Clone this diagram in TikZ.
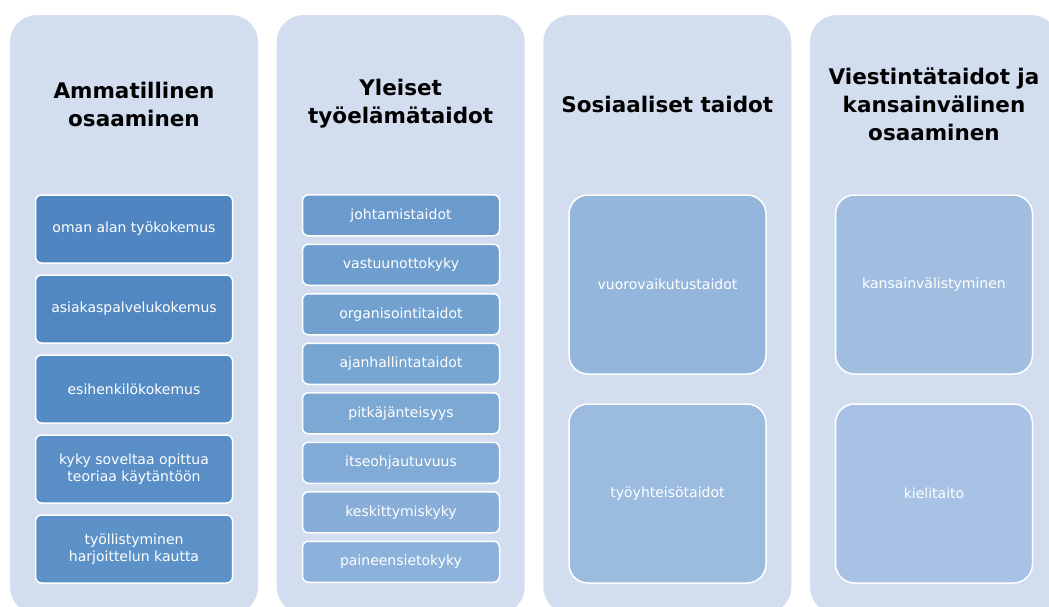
\documentclass[tikz,border=0pt]{standalone}
\usepackage{fontspec}
\setmainfont{DejaVu Sans}
\usepackage{tikz}
\usetikzlibrary{positioning}

\definecolor{panelfill}{HTML}{D2DEEF}
\definecolor{ca1}{HTML}{4F85C0}
\definecolor{ca2}{HTML}{5288C2}
\definecolor{ca3}{HTML}{558BC4}
\definecolor{ca4}{HTML}{598FC6}
\definecolor{ca5}{HTML}{5D92C8}
\definecolor{cb1}{HTML}{6A9BCC}
\definecolor{cb2}{HTML}{6E9ECE}
\definecolor{cb3}{HTML}{72A1D0}
\definecolor{cb4}{HTML}{77A5D2}
\definecolor{cb5}{HTML}{7CA8D4}
\definecolor{cb6}{HTML}{81ABD6}
\definecolor{cb7}{HTML}{87AED8}
\definecolor{cb8}{HTML}{8CB1DA}
\definecolor{cc1}{HTML}{94B6DC}
\definecolor{cc2}{HTML}{9BBBDF}
\definecolor{cd1}{HTML}{A1BEE1}
\definecolor{cd2}{HTML}{A7C2E4}

\tikzstyle{panel} = [rectangle, 
rounded corners=27pt, 
minimum width=248pt, 
minimum height=599pt, 
inner sep=0pt, 
fill=panelfill]
\tikzstyle{paneltitle} = [align=center, 
font=\bfseries\fontsize{21.5}{28}\selectfont]
\tikzstyle{skill} = [rectangle, 
rounded corners=6pt, 
minimum width=197pt, 
inner sep=0pt, 
align=center, 
draw=white, 
line width=1.5pt, 
text=white, 
font=\fontsize{14}{17}\selectfont]
\tikzstyle{smallskill} = [skill, minimum height=41pt]
\tikzstyle{bigskill} = [skill, minimum height=179pt, rounded corners=19pt]

\begin{document}
\begin{tikzpicture}[x=1pt, y=-1pt]
    \useasboundingbox (0,0) rectangle (1049,606);
    \clip (0,0) rectangle (1049,606);

    % Panels
    \node (p1) [panel] at (134,314.5) {};
    \node (p2) [panel] at (400.7,314.5) {};
    \node (p3) [panel] at (667.3,314.5) {};
    \node (p4) [panel] at (934,314.5) {};

    % Titles
    \node (h1) [paneltitle] at (134,104) {Ammatillinen\\osaaminen};
    \node (h2) [paneltitle] at (400.7,104) {Yleiset\\työelämätaidot};
    \node (h3) [paneltitle] at (667.3,104) {Sosiaaliset taidot};
    \node (h4) [paneltitle] at (934,104) {Viestintätaidot ja\\kansainvälinen\\osaaminen};

    % Ammatillinen osaaminen
    \node (a1) [skill, minimum height=68pt, fill=ca1] at (134,229) {oman alan työkokemus};
    \node (a2) [skill, minimum height=68pt, fill=ca2] at (134,309) {asiakaspalvelukokemus};
    \node (a3) [skill, minimum height=68pt, fill=ca3] at (134,389) {esihenkilökokemus};
    \node (a4) [skill, minimum height=68pt, fill=ca4] at (134,469) {kyky soveltaa opittua\\teoriaa käytäntöön};
    \node (a5) [skill, minimum height=68pt, fill=ca5] at (134,549) {työllistyminen\\harjoittelun kautta};

    % Yleiset työelämätaidot
    \node (b1) [smallskill, fill=cb1] at (401,215.25) {johtamistaidot};
    \node (b2) [smallskill, fill=cb2] at (401,264.75) {vastuunottokyky};
    \node (b3) [smallskill, fill=cb3] at (401,314.25) {organisointitaidot};
    \node (b4) [smallskill, fill=cb4] at (401,363.75) {ajanhallintataidot};
    \node (b5) [smallskill, fill=cb5] at (401,413.25) {pitkäjänteisyys};
    \node (b6) [smallskill, fill=cb6] at (401,462.75) {itseohjautuvuus};
    \node (b7) [smallskill, fill=cb7] at (401,512.25) {keskittymiskyky};
    \node (b8) [smallskill, fill=cb8] at (401,561.75) {paineensietokyky};

    % Sosiaaliset taidot
    \node (c1) [bigskill, fill=cc1] at (667.5,284.5) {vuorovaikutustaidot};
    \node (c2) [bigskill, fill=cc2] at (667.5,493.5) {työyhteisötaidot};

    % Viestintätaidot ja kansainvälinen osaaminen
    \node (d1) [bigskill, fill=cd1] at (934,284.5) {kansainvälistyminen};
    \node (d2) [bigskill, fill=cd2] at (934,493.5) {kielitaito};
\end{tikzpicture}
\end{document}
